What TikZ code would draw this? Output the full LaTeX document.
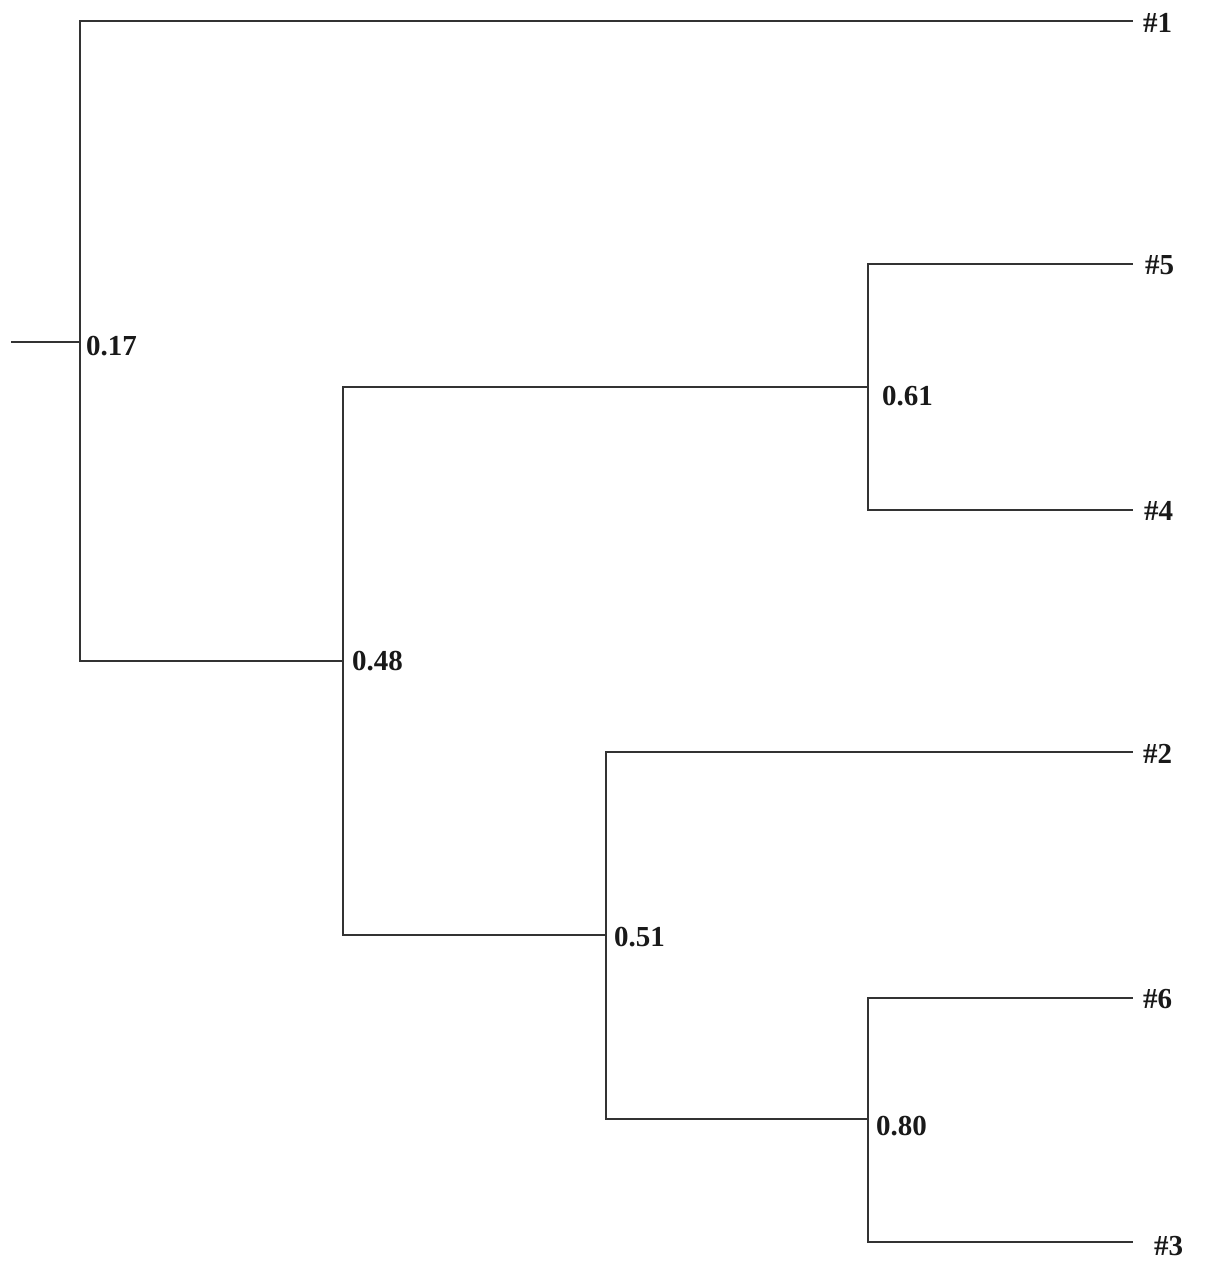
\documentclass[tikz,border=0pt]{standalone}
\usepackage{fontspec}
\setmainfont{Liberation Serif}
\begin{document}
\begin{tikzpicture}[x=1pt,y=-1pt,
  branch/.style={draw=black!80,line width=2.4pt,line cap=rect},
  lbl/.style={anchor=base west,inner sep=0pt,font=\fontsize{29}{29}\selectfont\bfseries,text=black!90}]
\useasboundingbox[fill=white] (0,0) rectangle (1205,1279);
% tree coordinates
\coordinate (root) at (12,342);
\coordinate (n17) at (80,342);
\coordinate (n48) at (343,661);
\coordinate (n61) at (868,387);
\coordinate (n51) at (606,935);
\coordinate (n80) at (868,1119);
\coordinate (l1) at (1132,21);
\coordinate (l5) at (1132,264);
\coordinate (l4) at (1132,510);
\coordinate (l2) at (1132,752);
\coordinate (l6) at (1132,998);
\coordinate (l3) at (1132,1242);
% branches
\draw[branch] (root) -- (n17);
\draw[branch] (n17) |- (l1);
\draw[branch] (n17) |- (n48);
\draw[branch] (n48) |- (n61);
\draw[branch] (n48) |- (n51);
\draw[branch] (n61) |- (l5);
\draw[branch] (n61) |- (l4);
\draw[branch] (n51) |- (l2);
\draw[branch] (n51) |- (n80);
\draw[branch] (n80) |- (l6);
\draw[branch] (n80) |- (l3);
% support labels
\node[lbl] (t17) at (86,355) {0.17};
\node[lbl] (t48) at (352,670) {0.48};
\node[lbl] (t61) at (882,405) {0.61};
\node[lbl] (t51) at (614,946) {0.51};
\node[lbl] (t80) at (876,1135) {0.80};
% leaf labels
\node[lbl] (h1) at (1143,33) {\#1};
\node[lbl] (h5) at (1145,274) {\#5};
\node[lbl] (h4) at (1144,520) {\#4};
\node[lbl] (h2) at (1143,763) {\#2};
\node[lbl] (h6) at (1143,1008) {\#6};
\node[lbl] (h3) at (1154,1255) {\#3};
\end{tikzpicture}
\end{document}
